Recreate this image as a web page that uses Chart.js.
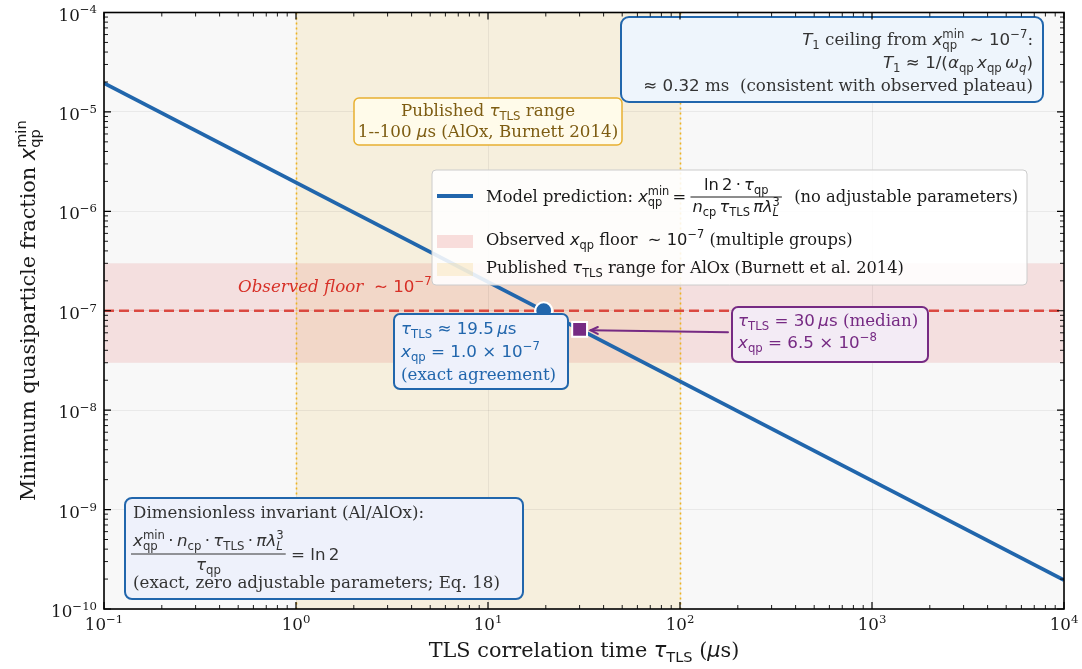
<!DOCTYPE html>
<html>
<head>
<meta charset="utf-8">
<script src="https://cdn.jsdelivr.net/npm/chart.js@4.4.1/dist/chart.umd.min.js"></script>
<style>
  html, body { margin: 0; padding: 0; background: #fff; }
  canvas { display: block; }
</style>
</head>
<body>
<canvas id="chart" width="1082" height="669"></canvas>
<script>
// data
const modelTau = [0.1, 10000];            // µs
const modelXqp = [1.95e-5, 1.95e-10];     // x_qp^min = ln2·τqp/(ncp τTLS πλ³) ∝ 1/τTLS
const floorLevel = 1e-7;
const floorBand = [3e-8, 3e-7];
const tlsRange = [1, 100];
const agreementPoint = [19.5, 1e-7];
const medianPoint = [30, 6.5e-8];
const xTicks = [0.1, 1, 10, 100, 1000, 10000];
const xTickExp = ['−1', '0', '1', '2', '3', '4'];
const yTicks = [1e-10, 1e-9, 1e-8, 1e-7, 1e-6, 1e-5, 1e-4];
const yTickExp = ['−10', '−9', '−8', '−7', '−6', '−5', '−4'];

const BLUE = '#2166ac';
const RED = '#d73027';
const PURPLE = '#762a83';
const GOLD = '#efb320';
const FS = 16.7;
const LS = 16.3;   // legend text
const TS = '\u2009'; // thin space

function isDecade(v) {
  const l = Math.log10(v);
  return Math.abs(l - Math.round(l)) < 1e-6;
}

// --- little rich-text helper: run = [text, style, sub, sup, subStyle, supStyle]
function fnt(st, sz) {
  if (st === 'r') return sz + 'px "DejaVu Serif"';
  if (st === 'ri') return 'italic ' + sz + 'px "DejaVu Serif"';
  if (st === 'i') return 'italic ' + sz + 'px "DejaVu Sans"';
  return sz + 'px "DejaVu Sans"';
}
function runW(ctx, r, sz) {
  ctx.font = fnt(r[1], sz);
  const w = ctx.measureText(r[0]).width;
  const s2 = sz * 0.7;
  let a = 0;
  if (r[2]) { ctx.font = fnt(r[4] || 'm', s2); a = ctx.measureText(r[2]).width; }
  if (r[3]) { ctx.font = fnt(r[5] || 'm', s2); a = Math.max(a, ctx.measureText(r[3]).width); }
  return w + a;
}
function measureRuns(ctx, runs, sz) {
  return runs.reduce((s, r) => s + runW(ctx, r, sz), 0);
}
function drawRuns(ctx, runs, x, y, sz, color, align) {
  const tw = measureRuns(ctx, runs, sz);
  if (align === 'center') x -= tw / 2;
  else if (align === 'right') x -= tw;
  ctx.save();
  ctx.fillStyle = color;
  ctx.textAlign = 'left';
  ctx.textBaseline = 'alphabetic';
  const s2 = sz * 0.7;
  for (const r of runs) {
    ctx.font = fnt(r[1], sz);
    ctx.fillText(r[0], x, y);
    const w = ctx.measureText(r[0]).width;
    let a = 0;
    if (r[2]) {
      ctx.font = fnt(r[4] || 'm', s2);
      ctx.fillText(r[2], x + w, y + sz * 0.24);
      a = ctx.measureText(r[2]).width;
    }
    if (r[3]) {
      ctx.font = fnt(r[5] || 'm', s2);
      ctx.fillText(r[3], x + w, y - sz * 0.42);
      a = Math.max(a, ctx.measureText(r[3]).width);
    }
    x += w + a;
  }
  ctx.restore();
  return tw;
}
function drawFrac(ctx, num, den, x, barY, sz, color) {
  const w = Math.max(measureRuns(ctx, num, sz), measureRuns(ctx, den, sz)) + 4;
  drawRuns(ctx, num, x + w / 2, barY - sz * 0.45, sz, color, 'center');
  drawRuns(ctx, den, x + w / 2, barY + sz * 0.95, sz, color, 'center');
  ctx.save();
  ctx.strokeStyle = color;
  ctx.lineWidth = 1;
  ctx.beginPath();
  ctx.moveTo(x, barY);
  ctx.lineTo(x + w, barY);
  ctx.stroke();
  ctx.restore();
  return w;
}
function box(ctx, x, y, w, h, fill, stroke, lw, r) {
  ctx.save();
  ctx.beginPath();
  ctx.roundRect(x, y, w, h, r);
  ctx.fillStyle = fill;
  ctx.fill();
  ctx.strokeStyle = stroke;
  ctx.lineWidth = lw;
  ctx.stroke();
  ctx.restore();
}

const overlay = {
  id: 'overlay',
  beforeDraw(chart) {
    const { ctx, chartArea: a, scales: { x, y } } = chart;
    ctx.save();
    ctx.fillStyle = '#ffffff';
    ctx.fillRect(0, 0, chart.width, chart.height);
    ctx.fillStyle = '#f8f8f8';
    ctx.fillRect(a.left, a.top, a.width, a.height);
    const x0 = x.getPixelForValue(tlsRange[0]), x1 = x.getPixelForValue(tlsRange[1]);
    ctx.fillStyle = 'rgba(240,200,100,0.18)';
    ctx.fillRect(x0, a.top, x1 - x0, a.height);
    const y0 = y.getPixelForValue(floorBand[1]), y1 = y.getPixelForValue(floorBand[0]);
    ctx.fillStyle = 'rgba(220,80,80,0.15)';
    ctx.fillRect(a.left, y0, a.width, y1 - y0);
    ctx.restore();
  },
  beforeDatasetsDraw(chart) {
    const { ctx, chartArea: a, scales: { x } } = chart;
    ctx.save();
    ctx.strokeStyle = GOLD;
    ctx.lineWidth = 1.6;
    ctx.setLineDash([2, 3]);
    for (const v of tlsRange) {
      const px = Math.round(x.getPixelForValue(v)) + 0.5;
      ctx.beginPath();
      ctx.moveTo(px, a.top);
      ctx.lineTo(px, a.bottom);
      ctx.stroke();
    }
    ctx.restore();
  },
  afterDatasetsDraw(chart) {
    const { ctx, scales: { x, y } } = chart;

    // floor label (partly hidden by legend)
    drawRuns(ctx, [['Observed floor ', 'ri'], [' ∼ 10', 'm', null, '−7']], 238, 292, FS, RED, 'left');

    // legend
    box(ctx, 432, 170, 595, 115, 'rgba(255,255,255,0.88)', '#cccccc', 1, 4);
    ctx.save();
    ctx.strokeStyle = BLUE;
    ctx.lineWidth = 3.8;
    ctx.beginPath();
    ctx.moveTo(437, 196);
    ctx.lineTo(473, 196);
    ctx.stroke();
    ctx.fillStyle = 'rgba(220,80,80,0.18)';
    ctx.fillRect(437, 235, 36, 13);
    ctx.fillStyle = 'rgba(240,200,100,0.22)';
    ctx.fillRect(437, 263, 36, 13);
    ctx.restore();
    const tc = '#1a1a1a';
    let lx = 486 + drawRuns(ctx, [['Model prediction: ', 'r'], ['x', 'i', 'qp', 'min'], [TS + '=' + TS, 'm']], 486, 202, LS, tc, 'left');
    lx += drawFrac(ctx,
      [['ln' + TS + '2' + TS + '·' + TS, 'm'], ['τ', 'i', 'qp']],
      [['n', 'i', 'cp'], [TS, 'm'], ['τ', 'i', 'TLS'], [TS, 'm'], ['πλ', 'i', 'L', '3', 'i']],
      lx + 1, 197, LS, tc);
    drawRuns(ctx, [['  (no adjustable parameters)', 'r']], lx + 3, 202, LS, tc, 'left');
    drawRuns(ctx, [['Observed ', 'r'], ['x', 'i', 'qp'], [' floor ', 'r'], [' ∼ 10', 'm', null, '−7'], [' (multiple groups)', 'r']], 486, 245, LS, tc, 'left');
    drawRuns(ctx, [['Published ', 'r'], ['τ', 'i', 'TLS'], [' range for AlOx (Burnett et al. 2014)', 'r']], 486, 273, LS, tc, 'left');

    // T1 ceiling box
    box(ctx, 621, 17, 422, 85, '#eef5fc', BLUE, 2, 8);
    const dk = '#333333';
    drawRuns(ctx, [['T', 'i', '1'], [' ceiling from ', 'r'], ['x', 'i', 'qp', 'min'], [' ∼ 10', 'm', null, '−7'], [':', 'r']], 1033, 45, FS, dk, 'right');
    drawRuns(ctx, [['T', 'i', '1'], [' ≈ 1/(', 'm'], ['α', 'i', 'qp'], [TS, 'm'], ['x', 'i', 'qp'], [TS, 'm'], ['ω', 'i', 'q', null, 'i'], [')', 'm']], 1033, 68, FS, dk, 'right');
    drawRuns(ctx, [['≈ 0.32', 'm'], [' ms  (consistent with observed plateau)', 'r']], 1033, 91, FS, dk, 'right');

    // published range box
    box(ctx, 354, 98, 268, 47, '#fffbea', '#e8b030', 1.5, 5);
    const br = '#7d5c12';
    drawRuns(ctx, [['Published ', 'r'], ['τ', 'i', 'TLS'], [' range', 'r']], 488, 116, FS, br, 'center');
    drawRuns(ctx, [['1--100 ', 'r'], ['μ', 'i'], ['s (AlOx, Burnett 2014)', 'r']], 488, 137, FS, br, 'center');

    // agreement box
    box(ctx, 394, 314, 174, 75, '#eef1fb', BLUE, 2, 6);
    drawRuns(ctx, [['τ', 'i', 'TLS'], [' ≈ 19.5' + TS, 'm'], ['μ', 'i'], ['s', 'm']], 401, 334, FS, BLUE, 'left');
    drawRuns(ctx, [['x', 'i', 'qp'], [' = 1.0 × 10', 'm', null, '−7']], 401, 357, FS, BLUE, 'left');
    drawRuns(ctx, [['(exact agreement)', 'r']], 401, 380, FS, BLUE, 'left');

    // median box + arrow
    box(ctx, 732, 307, 196, 55, '#f3ebf5', PURPLE, 2, 6);
    drawRuns(ctx, [['τ', 'i', 'TLS'], [' = 30' + TS, 'm'], ['μ', 'i'], ['s', 'm'], [' (median)', 'r']], 738, 326, FS, PURPLE, 'left');
    drawRuns(ctx, [['x', 'i', 'qp'], [' = 6.5 × 10', 'm', null, '−8']], 738, 348, FS, PURPLE, 'left');
    const sx = x.getPixelForValue(medianPoint[0]), sy = y.getPixelForValue(medianPoint[1]);
    ctx.save();
    ctx.strokeStyle = PURPLE;
    ctx.lineWidth = 2;
    ctx.lineCap = 'round';
    const tipX = sx + 11, tipY = sy + 1, tailX = 728, tailY = sy + 3;
    ctx.beginPath();
    ctx.moveTo(tailX, tailY);
    ctx.lineTo(tipX, tipY);
    ctx.stroke();
    const ang = Math.atan2(tipY - tailY, tipX - tailX);
    ctx.beginPath();
    ctx.moveTo(tipX - 8 * Math.cos(ang - 0.45), tipY - 8 * Math.sin(ang - 0.45));
    ctx.lineTo(tipX, tipY);
    ctx.lineTo(tipX - 8 * Math.cos(ang + 0.45), tipY - 8 * Math.sin(ang + 0.45));
    ctx.stroke();
    ctx.restore();

    // invariant box
    box(ctx, 125, 498, 398, 101, '#eef1fb', BLUE, 2, 7);
    drawRuns(ctx, [['Dimensionless invariant (Al/AlOx):', 'r']], 133, 518, FS, dk, 'left');
    const dot = TS + '·' + TS;
    const fw = drawFrac(ctx,
      [['x', 'i', 'qp', 'min'], [dot, 'm'], ['n', 'i', 'cp'], [dot, 'm'], ['τ', 'i', 'TLS'], [dot, 'm'], ['πλ', 'i', 'L', '3', 'i']],
      [['τ', 'i', 'qp']],
      131, 554, FS, dk);
    drawRuns(ctx, [[' = ln' + TS + '2', 'm']], 131 + fw, 560, FS, dk, 'left');
    drawRuns(ctx, [['(exact, zero adjustable parameters; Eq. 18)', 'r']], 133, 588, FS, dk, 'left');
  },
  afterDraw(chart) {
    const { ctx, chartArea: a, scales: { x, y } } = chart;
    ctx.save();
    ctx.strokeStyle = '#000';
    // inward ticks on all four sides
    const tick = (px, horiz, len, lw) => {
      ctx.lineWidth = lw;
      ctx.beginPath();
      if (horiz) {
        ctx.moveTo(px, a.bottom); ctx.lineTo(px, a.bottom - len);
        ctx.moveTo(px, a.top); ctx.lineTo(px, a.top + len);
      } else {
        ctx.moveTo(a.left, px); ctx.lineTo(a.left + len, px);
        ctx.moveTo(a.right, px); ctx.lineTo(a.right - len, px);
      }
      ctx.stroke();
    };
    xTicks.forEach((d, i) => {
      tick(x.getPixelForValue(d), true, 7, 1.2);
      if (i < xTicks.length - 1) for (let m = 2; m < 10; m++) tick(x.getPixelForValue(m * d), true, 4, 0.9);
    });
    yTicks.forEach((d, i) => {
      tick(y.getPixelForValue(d), false, 7, 1.2);
      if (i < yTicks.length - 1) for (let m = 2; m < 10; m++) tick(y.getPixelForValue(m * d), false, 4, 0.9);
    });
    ctx.lineWidth = 1.6;
    ctx.strokeRect(a.left, a.top, a.width, a.height);
    ctx.restore();

    // tick labels, placed by the scales
    const lc = '#1a1a1a';
    xTicks.forEach((v, i) => {
      drawRuns(ctx, [['10', 'r', null, xTickExp[i], null, 'r']], x.getPixelForValue(v), 630, FS, lc, 'center');
    });
    yTicks.forEach((v, i) => {
      drawRuns(ctx, [['10', 'r', null, yTickExp[i], null, 'r']], a.left - 7, y.getPixelForValue(v) + 8, FS, lc, 'right');
    });

    // axis titles
    drawRuns(ctx, [['TLS correlation time ', 'r'], ['τ', 'i', 'TLS'], [' (', 'r'], ['μ', 'i'], ['s)', 'r']],
      (a.left + a.right) / 2, 657, 20.8, lc, 'center');
    ctx.save();
    ctx.translate(35, (a.top + a.bottom) / 2);
    ctx.rotate(-Math.PI / 2);
    drawRuns(ctx, [['Minimum quasiparticle fraction ', 'r'], ['x', 'i', 'qp', 'min']], 0, 0, 20.8, lc, 'center');
    ctx.restore();
  }
};

new Chart(document.getElementById('chart'), {
  type: 'line',
  data: {
    datasets: [
      {
        label: 'agreement',
        data: [{ x: agreementPoint[0], y: agreementPoint[1] }],
        showLine: false,
        pointRadius: 8.5,
        pointBackgroundColor: BLUE,
        pointBorderColor: '#ffffff',
        pointBorderWidth: 2.2,
        order: 0
      },
      {
        label: 'median',
        data: [{ x: medianPoint[0], y: medianPoint[1] }],
        showLine: false,
        pointStyle: 'rect',
        pointRadius: 10.5,
        pointBackgroundColor: PURPLE,
        pointBorderColor: '#ffffff',
        pointBorderWidth: 2,
        order: 0
      },
      {
        label: 'Model prediction',
        data: modelTau.map((t, i) => ({ x: t, y: modelXqp[i] })),
        borderColor: BLUE,
        borderWidth: 3.8,
        pointRadius: 0,
        order: 1
      },
      {
        label: 'Observed floor',
        data: [{ x: xTicks[0], y: floorLevel }, { x: xTicks[xTicks.length - 1], y: floorLevel }],
        borderColor: 'rgba(215,48,39,0.85)',
        borderWidth: 2.6,
        borderDash: [10, 5],
        pointRadius: 0,
        order: 2
      }
    ]
  },
  options: {
    responsive: false,
    animation: false,
    devicePixelRatio: 1,
    events: [],
    layout: { padding: { top: 10, right: 18, left: 0, bottom: 0 } },
    plugins: { legend: { display: false }, tooltip: { enabled: false } },
    scales: {
      x: {
        type: 'logarithmic',
        min: 0.1,
        max: 10000,
        afterFit(s) { s.height = 60; },
        border: { display: false },
        grid: {
          drawTicks: false,
          lineWidth: 1,
          color: c => isDecade(c.tick.value) ? 'rgba(0,0,0,0.06)' : 'rgba(0,0,0,0)'
        },
        ticks: { display: false, autoSkip: false }
      },
      y: {
        type: 'logarithmic',
        min: 1e-10,
        max: 1e-4,
        afterFit(s) { s.width = 104; },
        border: { display: false },
        grid: {
          drawTicks: false,
          lineWidth: 1,
          color: c => isDecade(c.tick.value) ? 'rgba(0,0,0,0.06)' : 'rgba(0,0,0,0)'
        },
        ticks: { display: false, autoSkip: false }
      }
    }
  },
  plugins: [overlay]
});
</script>
</body>
</html>
